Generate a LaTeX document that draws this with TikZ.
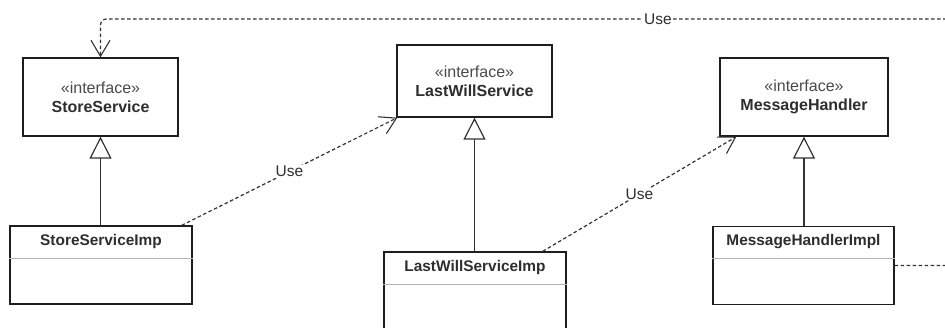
\documentclass[tikz,border=0pt]{standalone}
\usepackage{fontspec}
\setmainfont{Liberation Sans}
\usetikzlibrary{arrows.meta,calc}
\definecolor{txt}{HTML}{2E2E2E}
\definecolor{stereo}{HTML}{4A4A4A}
\definecolor{edge}{HTML}{1E1E1E}
\definecolor{sepc}{HTML}{B4B4B4}
\definecolor{lnk}{HTML}{333333}
\begin{document}
\begin{tikzpicture}[x=1pt,y=-1pt,
  iface/.style={draw=edge, line width=1.3pt, fill=white, inner sep=0pt, align=center,
    text=txt, font=\fontsize{16}{19}\selectfont},
  clsbox/.style={draw=edge, line width=1.3pt, fill=white, inner sep=0pt,
    minimum width=182pt, minimum height=78pt},
  clstitle/.style={text=txt, font=\fontsize{15.4}{18}\selectfont\bfseries, inner sep=0pt},
  sepline/.style={draw=sepc, line width=1pt},
  gen/.style={draw=lnk, line width=1.5pt, -{Triangle[open, length=22pt, width=22pt, line width=1.2pt]}},
  dep/.style={draw=lnk, line width=1.2pt, dash pattern=on 3.5pt off 2.5pt,
    -{Straight Barb[length=16pt, width=19pt, line width=1.1pt]}},
  lbl/.style={fill=white, text=txt, inner sep=1pt, font=\fontsize{15.5}{18}\selectfont}
]
\useasboundingbox[fill=white] (0,0) rectangle (945,327);

% interfaces
\node[iface, minimum width=155pt, minimum height=78pt] (ss) at (100.5,97)
  {{\color{stereo}«interface»}\\\textbf{StoreService}};
\node[iface, minimum width=155pt, minimum height=72pt] (lws) at (474.5,81)
  {{\color{stereo}«interface»}\\\textbf{LastWillService}};
\node[iface, minimum width=168pt, minimum height=78pt] (mh) at (804,97)
  {{\color{stereo}«interface»}\\\textbf{MessageHandler}};

% implementation classes
\node[clsbox] (ssi) at (101,265) {};
\node[clstitle] (ssiT) at ($(ssi.north)+(0,16)$) {StoreServiceImp};
\draw[sepline] ([yshift=-33pt]ssi.north west) -- ([yshift=-33pt]ssi.north east);

\node[clsbox] (lwsi) at (475,291) {};
\node[clstitle] (lwsiT) at ($(lwsi.north)+(0,16)$) {LastWillServiceImp};
\draw[sepline] ([yshift=-33pt]lwsi.north west) -- ([yshift=-33pt]lwsi.north east);

\node[clsbox, minimum width=181pt] (mhi) at (803.5,265.5) {};
\node[clstitle] (mhiT) at ($(mhi.north)+(0,16)$) {MessageHandlerImpl};
\draw[sepline] ([yshift=-33pt]mhi.north west) -- ([yshift=-33pt]mhi.north east);

% generalizations
\draw[gen] (ssi.north -| ss.south) -- (ss.south);
\draw[gen] (lwsi.north -| lws.south) -- (lws.south);
\draw[gen] (mhi.north -| mh.south) -- (mh.south);

% dependencies
\draw[dep] ([xshift=-11pt]ssi.north east) -- node[lbl] {Use} ([xshift=1pt]lws.south west);
\draw[dep] ([xshift=-24pt]lwsi.north east) -- node[lbl] {Use} ([xshift=17pt]mh.south west);

\coordinate (farB) at (965,265.5);
\coordinate (farT) at (965,19);
\draw[dep, rounded corners=6pt] (mhi.east) -- (farB) -- (farT) -- (ss.north |- farT) -- (ss.north);
\node[lbl] (topUse) at (658,19) {Use};
\end{tikzpicture}
\end{document}
